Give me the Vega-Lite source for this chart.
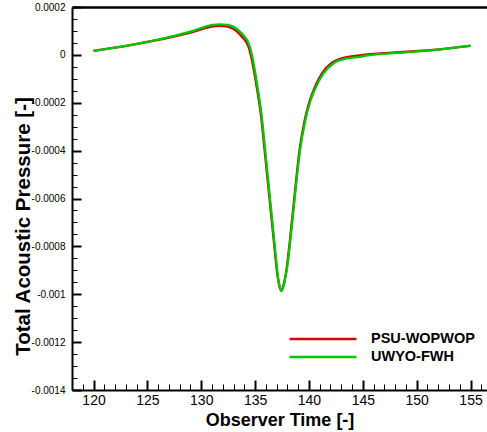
{
  "$schema": "https://vega.github.io/schema/vega-lite/v6.json",
  "autosize": {"type": "none"},
  "padding": {"left": 72, "top": 7, "right": 0, "bottom": 42},
  "width": 415,
  "height": 383,
  "background": "white",
  "config": {
    "view": {"stroke": null},
    "axis": {"labelFont": "Liberation Sans", "titleFont": "Liberation Sans", "titleFontWeight": "bold", "labelColor": "black", "titleColor": "black", "domainColor": "black", "tickColor": "black", "grid": false}
  },
  "data": {"values": [
    {"t": 120.0, "p": 0.000017, "s": "PSU-WOPWOP"},
    {"t": 123.4, "p": 0.000041, "s": "PSU-WOPWOP"},
    {"t": 126.5, "p": 0.000067, "s": "PSU-WOPWOP"},
    {"t": 129.0, "p": 0.000093, "s": "PSU-WOPWOP"},
    {"t": 131.1, "p": 0.000119, "s": "PSU-WOPWOP"},
    {"t": 131.7, "p": 0.000121, "s": "PSU-WOPWOP"},
    {"t": 132.35, "p": 0.000119, "s": "PSU-WOPWOP"},
    {"t": 132.9, "p": 0.000110, "s": "PSU-WOPWOP"},
    {"t": 133.2, "p": 0.000101, "s": "PSU-WOPWOP"},
    {"t": 133.5, "p": 0.000090, "s": "PSU-WOPWOP"},
    {"t": 133.8, "p": 0.000075, "s": "PSU-WOPWOP"},
    {"t": 134.42, "p": 0.000030, "s": "PSU-WOPWOP"},
    {"t": 134.62, "p": -0.000005, "s": "PSU-WOPWOP"},
    {"t": 135.08, "p": -0.000115, "s": "PSU-WOPWOP"},
    {"t": 135.55, "p": -0.000255, "s": "PSU-WOPWOP"},
    {"t": 135.87, "p": -0.000393, "s": "PSU-WOPWOP"},
    {"t": 136.19, "p": -0.000535, "s": "PSU-WOPWOP"},
    {"t": 136.5, "p": -0.000673, "s": "PSU-WOPWOP"},
    {"t": 136.81, "p": -0.000810, "s": "PSU-WOPWOP"},
    {"t": 137.12, "p": -0.000935, "s": "PSU-WOPWOP"},
    {"t": 137.28, "p": -0.000970, "s": "PSU-WOPWOP"},
    {"t": 137.45, "p": -0.000985, "s": "PSU-WOPWOP"},
    {"t": 137.62, "p": -0.000965, "s": "PSU-WOPWOP"},
    {"t": 137.9, "p": -0.000900, "s": "PSU-WOPWOP"},
    {"t": 138.36, "p": -0.000720, "s": "PSU-WOPWOP"},
    {"t": 138.76, "p": -0.000545, "s": "PSU-WOPWOP"},
    {"t": 139.12, "p": -0.000399, "s": "PSU-WOPWOP"},
    {"t": 139.57, "p": -0.000280, "s": "PSU-WOPWOP"},
    {"t": 140.03, "p": -0.000197, "s": "PSU-WOPWOP"},
    {"t": 140.64, "p": -0.000125, "s": "PSU-WOPWOP"},
    {"t": 141.24, "p": -0.000075, "s": "PSU-WOPWOP"},
    {"t": 142.17, "p": -0.000032, "s": "PSU-WOPWOP"},
    {"t": 143.4, "p": -0.000010, "s": "PSU-WOPWOP"},
    {"t": 144.7, "p": -0.000002, "s": "PSU-WOPWOP"},
    {"t": 145.67, "p": 0.000003, "s": "PSU-WOPWOP"},
    {"t": 148.45, "p": 0.000011, "s": "PSU-WOPWOP"},
    {"t": 151.52, "p": 0.000021, "s": "PSU-WOPWOP"},
    {"t": 155.0, "p": 0.000038, "s": "PSU-WOPWOP"},
    {"t": 120.0, "p": 0.000017, "s": "UWYO-FWH"},
    {"t": 123.4, "p": 0.000041, "s": "UWYO-FWH"},
    {"t": 126.5, "p": 0.000069, "s": "UWYO-FWH"},
    {"t": 129.0, "p": 0.000097, "s": "UWYO-FWH"},
    {"t": 131.1, "p": 0.000125, "s": "UWYO-FWH"},
    {"t": 131.75, "p": 0.000127, "s": "UWYO-FWH"},
    {"t": 132.4, "p": 0.000125, "s": "UWYO-FWH"},
    {"t": 133.0, "p": 0.000117, "s": "UWYO-FWH"},
    {"t": 133.3, "p": 0.000108, "s": "UWYO-FWH"},
    {"t": 133.6, "p": 0.000097, "s": "UWYO-FWH"},
    {"t": 133.9, "p": 0.000083, "s": "UWYO-FWH"},
    {"t": 134.5, "p": 0.000036, "s": "UWYO-FWH"},
    {"t": 134.7, "p": 0.000000, "s": "UWYO-FWH"},
    {"t": 135.15, "p": -0.000113, "s": "UWYO-FWH"},
    {"t": 135.6, "p": -0.000252, "s": "UWYO-FWH"},
    {"t": 135.92, "p": -0.000391, "s": "UWYO-FWH"},
    {"t": 136.23, "p": -0.000532, "s": "UWYO-FWH"},
    {"t": 136.54, "p": -0.000671, "s": "UWYO-FWH"},
    {"t": 136.85, "p": -0.000809, "s": "UWYO-FWH"},
    {"t": 137.15, "p": -0.000935, "s": "UWYO-FWH"},
    {"t": 137.3, "p": -0.000970, "s": "UWYO-FWH"},
    {"t": 137.47, "p": -0.000985, "s": "UWYO-FWH"},
    {"t": 137.65, "p": -0.000965, "s": "UWYO-FWH"},
    {"t": 137.93, "p": -0.000901, "s": "UWYO-FWH"},
    {"t": 138.4, "p": -0.000721, "s": "UWYO-FWH"},
    {"t": 138.8, "p": -0.000545, "s": "UWYO-FWH"},
    {"t": 139.17, "p": -0.000399, "s": "UWYO-FWH"},
    {"t": 139.63, "p": -0.000280, "s": "UWYO-FWH"},
    {"t": 140.1, "p": -0.000197, "s": "UWYO-FWH"},
    {"t": 140.72, "p": -0.000127, "s": "UWYO-FWH"},
    {"t": 141.33, "p": -0.000078, "s": "UWYO-FWH"},
    {"t": 142.26, "p": -0.000036, "s": "UWYO-FWH"},
    {"t": 143.5, "p": -0.000015, "s": "UWYO-FWH"},
    {"t": 144.74, "p": -0.000008, "s": "UWYO-FWH"},
    {"t": 145.67, "p": -0.000001, "s": "UWYO-FWH"},
    {"t": 148.45, "p": 0.000009, "s": "UWYO-FWH"},
    {"t": 151.52, "p": 0.000020, "s": "UWYO-FWH"},
    {"t": 155.0, "p": 0.000039, "s": "UWYO-FWH"}
  ]},
  "resolve": {"axis": {"x": "independent"}},
  "layer": [
    {
      "mark": {"type": "line", "interpolate": "monotone", "strokeWidth": 2.3},
      "encoding": {
        "x": {"field": "t", "type": "quantitative",
          "scale": {"domain": [118, 156.53], "nice": false, "zero": false},
          "axis": {
            "orient": "bottom",
            "title": "Observer Time [-]",
            "titleFontSize": 18,
            "titleBaseline": "alphabetic",
            "titleY": 35,
            "labelFontSize": 14,
            "labelPadding": 13,
            "values": [118,119,120,121,122,123,124,125,126,127,128,129,130,131,132,133,134,135,136,137,138,139,140,141,142,143,144,145,146,147,148,149,150,151,152,153,154,155,156],
            "labelExpr": "datum.value % 5 == 0 ? toString(datum.value) : ''",
            "tickSize": -10,
            "tickDash": {"condition": {"test": "datum.value % 5 == 0", "value": [10, 0]}, "value": [6, 100]},
            "tickWidth": {"condition": {"test": "datum.value % 5 == 0", "value": 2}, "value": 1},
            "domainWidth": 2,
            "labelFlush": false,
            "labelOverlap": false
          }
        },
        "y": {"field": "p", "type": "quantitative",
          "scale": {"domain": [-0.0014, 0.0002], "nice": false, "zero": false},
          "axis": {
            "title": "Total Acoustic Pressure [-]",
            "titleFontSize": 20.5,
            "titleBaseline": "alphabetic",
            "titleAlign": "center",
            "titleAngle": -90,
            "titleX": -43,
            "titleY": 219,
            "labelFontSize": 10,
            "labelPadding": 16,
            "values": [-0.0014,-0.00135,-0.0013,-0.00125,-0.0012,-0.00115,-0.0011,-0.00105,-0.001,-0.00095,-0.0009,-0.00085,-0.0008,-0.00075,-0.0007,-0.00065,-0.0006,-0.00055,-0.0005,-0.00045,-0.0004,-0.00035,-0.0003,-0.00025,-0.0002,-0.00015,-0.0001,-0.00005,0,0.00005,0.0001,0.00015,0.0002],
            "labelExpr": "abs(datum.value*5000 - round(datum.value*5000)) < 0.001 ? toString(round(datum.value*10000)/10000) : ''",
            "tickSize": -9,
            "tickDash": {"condition": {"test": "abs(datum.value*5000 - round(datum.value*5000)) < 0.001", "value": [9, 0]}, "value": [5, 100]},
            "tickWidth": {"condition": {"test": "abs(datum.value*5000 - round(datum.value*5000)) < 0.001", "value": 2}, "value": 1},
            "domainWidth": 2,
            "labelFlush": false,
            "labelOverlap": false
          }
        },
        "color": {"field": "s", "type": "nominal",
          "scale": {"domain": ["PSU-WOPWOP", "UWYO-FWH"], "range": ["#d40000", "#00c800"]},
          "legend": {
            "title": null,
            "orient": "none",
            "legendX": 241,
            "legendY": 322,
            "padding": 0,
            "symbolType": "M-4,0H4",
            "symbolSize": 280,
            "symbolStrokeWidth": 2.5,
            "symbolFillColor": "transparent",
            "labelFont": "Liberation Sans",
            "labelFontWeight": "bold",
            "labelFontSize": 14.5,
            "labelColor": "black",
            "labelOffset": 38,
            "rowPadding": 1
          }
        }
      }
    },
    {
      "mark": {"type": "point", "opacity": 0},
      "encoding": {
        "x": {"field": "t", "type": "quantitative",
          "axis": {"orient": "top", "title": null, "labels": false, "ticks": false, "domainWidth": 2.5, "domainColor": "black"}}
      }
    }
  ]
}
